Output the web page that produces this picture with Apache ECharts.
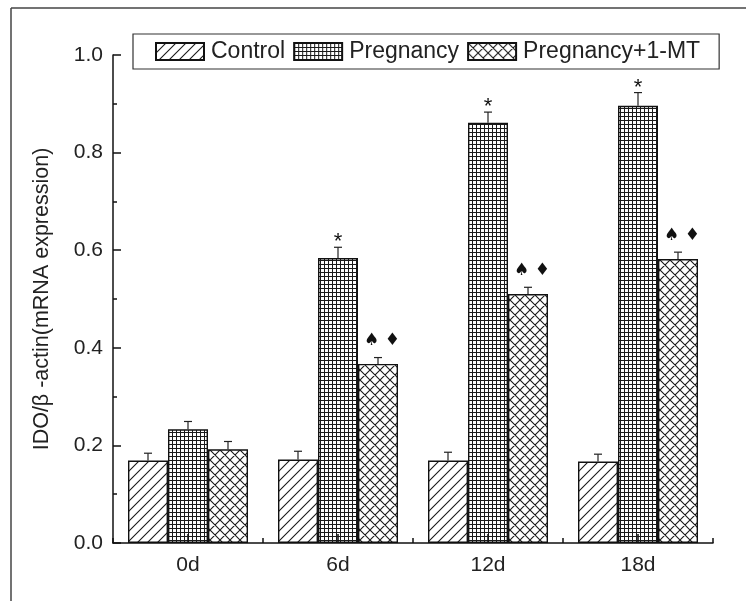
<!DOCTYPE html>
<html>
<head>
<meta charset="utf-8">
<script src="https://cdn.jsdelivr.net/npm/echarts@6/dist/echarts.min.js"></script>
<style>
html,body{margin:0;padding:0;background:#fff;}
#chart{width:746px;height:601px;}
</style>
</head>
<body>
<div id="chart"></div>
<script>
// ---- data ----
const categories = ['0d', '6d', '12d', '18d'];
const seriesNames = ['Control', 'Pregnancy', 'Pregnancy+1-MT'];
const controlValues = [0.169, 0.171, 0.169, 0.167];
const controlErrors = [0.015, 0.017, 0.017, 0.015];
const pregnancyValues = [0.233, 0.584, 0.861, 0.896];
const pregnancyErrors = [0.016, 0.022, 0.022, 0.027];
const mtValues = [0.192, 0.367, 0.510, 0.582];
const mtErrors = [0.016, 0.013, 0.014, 0.014];
const pregnancyMarks = ['', '*', '*', '*'];
const mtMarks = ['', '\u2660 \u2666', '\u2660 \u2666', '\u2660 \u2666'];
const yTicks = [0, 0.2, 0.4, 0.6, 0.8, 1.0];

// ---- patterns ----
function makePattern(kind) {
  const c = document.createElement('canvas');
  const ink = '#1a1a1a';
  if (kind === 'grid') {
    c.width = 4; c.height = 4;
    const g = c.getContext('2d');
    g.fillStyle = '#fff'; g.fillRect(0, 0, 4, 4);
    g.fillStyle = ink;
    g.fillRect(0, 0, 4, 1);
    g.fillRect(0, 0, 1, 4);
  } else {
    const s = 10;
    c.width = s; c.height = s;
    const g = c.getContext('2d');
    g.fillStyle = '#fff'; g.fillRect(0, 0, s, s);
    g.strokeStyle = ink; g.lineWidth = 1.1;
    g.beginPath();
    g.moveTo(-2, s + 2); g.lineTo(s + 2, -2);
    g.moveTo(-2, 2); g.lineTo(2, -2);
    g.moveTo(s - 2, s + 2); g.lineTo(s + 2, s - 2);
    if (kind === 'cross') {
      g.moveTo(-2, -2); g.lineTo(s + 2, s + 2);
      g.moveTo(s - 2, -2); g.lineTo(s + 2, 2);
      g.moveTo(-2, s - 2); g.lineTo(2, s + 2);
    }
    g.stroke();
  }
  return { image: c, repeat: 'repeat' };
}
const patterns = [makePattern('diag'), makePattern('grid'), makePattern('cross')];

const valueSets = [controlValues, pregnancyValues, mtValues];
const errorSets = [controlErrors, pregnancyErrors, mtErrors];
const markSets = [null, pregnancyMarks, mtMarks];

const barSeries = seriesNames.map((name, k) => ({
  name: name,
  type: 'bar',
  xAxisIndex: 0,
  barGap: '0%',
  barCategoryGap: '20%',
  data: valueSets[k],
  itemStyle: { color: patterns[k], borderColor: '#111', borderWidth: 1.4 },
  emphasis: { disabled: true },
  z: 2
}));

function errorSeries(k) {
  return {
    type: 'custom',
    xAxisIndex: 0,
    z: 5,
    silent: true,
    data: valueSets[k].map((v, i) => [i, v, errorSets[k][i]]),
    renderItem: function (params, api) {
      const cat = api.value(0), val = api.value(1), err = api.value(2);
      const base = api.coord([cat, val]);
      const top = api.coord([cat, val + err]);
      const band = api.size([1, 0])[0];
      const bw = band * 0.8 / 3;
      const x = base[0] + (k - 1) * bw;
      const children = [
        { type: 'line', shape: { x1: x, y1: base[1], x2: x, y2: top[1] }, style: { stroke: '#222', lineWidth: 1.2 } },
        { type: 'line', shape: { x1: x - 4, y1: top[1], x2: x + 4, y2: top[1] }, style: { stroke: '#222', lineWidth: 1.2 } }
      ];
      const marks = markSets[k];
      if (marks && marks[params.dataIndex]) {
        if (k === 1) {
          children.push({ type: 'text', style: { text: marks[params.dataIndex], x: x, y: top[1] + 6, align: 'center', verticalAlign: 'bottom', fontSize: 22, fontFamily: 'Liberation Sans, Arial', fill: '#111' } });
        } else {
          children.push({ type: 'text', style: { text: marks[params.dataIndex], x: x + 4, y: top[1] - 17, align: 'center', verticalAlign: 'middle', fontSize: 17, fontFamily: 'DejaVu Sans', fill: '#111' } });
        }
      }
      return { type: 'group', children: children };
    }
  };
}

const chart = echarts.init(document.getElementById('chart'), null, { renderer: 'canvas' });
chart.setOption({
  animation: false,
  backgroundColor: '#fff',
  textStyle: { fontFamily: 'Liberation Sans, Arial, sans-serif' },
  graphic: [
    { type: 'line', shape: { x1: 11, y1: 8, x2: 746, y2: 8 }, style: { stroke: '#444', lineWidth: 1.5 } },
    { type: 'line', shape: { x1: 11, y1: 8, x2: 11, y2: 601 }, style: { stroke: '#444', lineWidth: 1.5 } }
  ],
  grid: { left: 113, right: 33, top: 55, bottom: 58 },
  legend: {
    data: seriesNames,
    left: 133, top: 34,
    icon: 'rect',
    itemWidth: 48, itemHeight: 17, itemGap: 8,
    padding: [6, 19, 6, 22],
    borderColor: '#333', borderWidth: 1.2,
    textStyle: { fontSize: 23, color: '#222', padding: [0, 0, 0, 2] },
    selectedMode: false
  },
  xAxis: [
    {
      type: 'category', data: categories, position: 'bottom',
      axisLine: { lineStyle: { color: '#111', width: 1.5 } },
      axisTick: { show: true, inside: true, length: 5, lineStyle: { color: '#111', width: 1.5 } },
      axisLabel: { fontSize: 21, color: '#222', margin: 12 },
      z: 10
    },
    {
      type: 'category', data: categories, position: 'bottom', gridIndex: 0,
      axisLine: { show: false },
      axisTick: { show: true, inside: true, alignWithLabel: true, length: 9, lineStyle: { color: '#111', width: 1.5 } },
      axisLabel: { show: false },
      z: 10
    }
  ],
  yAxis: {
    type: 'value', min: yTicks[0], max: yTicks[yTicks.length - 1], interval: 0.2,
    name: 'IDO/\u03b2 -actin(mRNA expression)',
    nameLocation: 'middle', nameGap: 60,
    nameTextStyle: { fontSize: 21.5, color: '#222' },
    axisLine: { show: true, lineStyle: { color: '#111', width: 1.5 } },
    axisTick: { show: true, inside: true, length: 8, lineStyle: { color: '#111', width: 1.5 } },
    minorTick: { show: true, splitNumber: 2, length: 4, lineStyle: { color: '#111', width: 1.5 } },
    splitLine: { show: false },
    axisLabel: { fontSize: 21, color: '#222', margin: 10, formatter: v => v.toFixed(1) },
    z: 10
  },
  series: barSeries.concat([errorSeries(0), errorSeries(1), errorSeries(2)])
});
</script>
</body>
</html>
